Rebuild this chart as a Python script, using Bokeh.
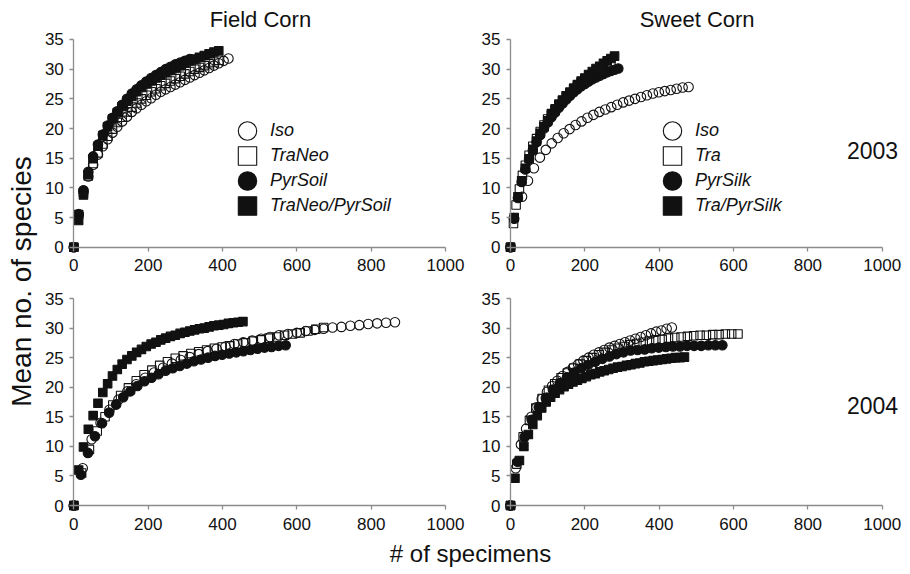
import math
from bokeh.plotting import figure
from bokeh.models import Range1d, FixedTicker, Legend, LegendItem, Label
from bokeh.layouts import row, column
from bokeh.embed import file_html
from bokeh.resources import INLINE

# ---------------- data ----------------
# Field corn 2003
fc03_iso_x = [0, 13, 26, 39, 52, 65, 78, 91, 104, 117, 130, 143, 156, 169, 182, 195, 208, 221, 234, 247, 260, 273, 286, 299, 312, 325, 338, 351, 364, 377, 390, 403, 416]
fc03_iso_y = [0, 5.6, 9.3, 11.9, 13.9, 15.6, 17.0, 18.2, 19.3, 20.3, 21.2, 22.0, 22.8, 23.4, 24.0, 24.6, 25.1, 25.7, 26.2, 26.6, 27.0, 27.4, 27.8, 28.2, 28.6, 29.0, 29.4, 29.8, 30.2, 30.6, 31.0, 31.4, 31.8]
fc03_traneo_x = [0, 13, 26, 39, 52, 65, 78, 91, 104, 117, 130, 143, 156, 169, 182, 195, 208, 221, 234, 247, 260, 273, 286, 299, 312, 325, 338, 351, 364, 377, 390]
fc03_traneo_y = [0, 5.5, 9.2, 12.0, 14.1, 15.9, 17.4, 18.7, 19.9, 21.0, 21.9, 22.8, 23.6, 24.3, 25.0, 25.6, 26.2, 26.7, 27.2, 27.6, 28.0, 28.4, 28.8, 29.2, 29.6, 30.0, 30.3, 30.6, 30.9, 31.2, 31.5]
fc03_pyrsoil_x = [0, 13, 26, 39, 52, 65, 78, 91, 104, 117, 130, 143, 156, 169, 182, 195, 208, 221, 234, 247, 260, 273, 286, 299, 312]
fc03_pyrsoil_y = [0, 5.5, 9.6, 12.7, 15.3, 17.3, 19.0, 20.5, 21.8, 22.9, 24.0, 25.0, 25.9, 26.6, 27.3, 27.9, 28.5, 29.0, 29.5, 30.0, 30.4, 30.8, 31.1, 31.4, 31.7]
fc03_combo_x = [0, 13, 26, 39, 52, 65, 78, 91, 104, 117, 130, 143, 156, 169, 182, 195, 208, 221, 234, 247, 260, 273, 286, 299, 312, 325, 338, 351, 364, 377, 390]
fc03_combo_y = [0, 4.5, 8.8, 12.2, 14.9, 17.0, 18.8, 20.3, 21.6, 22.7, 23.7, 24.6, 25.4, 26.2, 26.9, 27.5, 28.0, 28.5, 29.0, 29.4, 29.8, 30.2, 30.6, 31.0, 31.4, 31.7, 32.0, 32.3, 32.6, 32.9, 33.1]

# Sweet corn 2003
sc03_iso_x = [0, 9, 31, 47, 63, 79, 95, 111, 127, 143, 159, 175, 191, 207, 223, 239, 255, 271, 287, 303, 319, 335, 351, 367, 383, 399, 415, 431, 447, 463, 479]
sc03_iso_y = [0, 4.9, 8.5, 11.2, 13.3, 15.1, 16.4, 17.5, 18.4, 19.2, 19.9, 20.6, 21.2, 21.8, 22.3, 22.8, 23.2, 23.6, 24.0, 24.4, 24.7, 25.0, 25.3, 25.6, 25.9, 26.1, 26.3, 26.5, 26.7, 26.9, 27.0]
sc03_tra_x = [0, 8, 15, 24, 32, 40, 50, 60, 70, 80, 90, 100, 110, 120, 130, 140, 150, 160, 170, 180, 190, 200, 210, 220, 230, 240, 250, 260, 270]
sc03_tra_y = [0, 4.0, 7.1, 9.8, 12.1, 13.8, 15.5, 17.0, 18.3, 19.5, 20.6, 21.6, 22.5, 23.3, 24.1, 24.8, 25.5, 26.1, 26.7, 27.2, 27.7, 28.2, 28.6, 29.0, 29.4, 29.8, 30.1, 30.4, 30.7]
sc03_pyrsilk_x = [0, 10, 20, 30, 40, 50, 60, 70, 80, 90, 100, 110, 120, 130, 140, 150, 160, 170, 180, 190, 200, 210, 220, 230, 240, 250, 260, 270, 280, 290]
sc03_pyrsilk_y = [0, 4.8, 8.3, 11.0, 13.1, 14.8, 16.3, 17.7, 18.9, 20.0, 21.0, 21.9, 22.7, 23.5, 24.2, 24.9, 25.5, 26.1, 26.6, 27.1, 27.5, 27.9, 28.3, 28.6, 28.9, 29.2, 29.5, 29.7, 29.9, 30.1]
sc03_combo_x = [0, 10, 20, 30, 40, 50, 60, 70, 80, 90, 100, 110, 120, 130, 140, 150, 160, 170, 180, 190, 200, 210, 220, 230, 240, 250, 260, 270, 280]
sc03_combo_y = [0, 5.0, 8.5, 11.2, 13.3, 14.9, 16.5, 17.9, 19.2, 20.3, 21.3, 22.3, 23.2, 24.0, 24.7, 25.5, 26.1, 26.8, 27.4, 28.0, 28.5, 29.1, 29.6, 30.1, 30.5, 31.0, 31.4, 31.8, 32.2]

# Field corn 2004
fc04_iso_x = [0, 24, 48, 72, 96, 120, 144, 168, 192, 216, 240, 264, 288, 312, 336, 360, 384, 408, 432, 456, 480, 504, 528, 552, 576, 600, 624, 648, 672, 696, 720, 744, 768, 792, 816, 840, 864]
fc04_iso_y = [0, 6.3, 11.2, 14.0, 16.2, 17.9, 19.3, 20.5, 21.6, 22.5, 23.3, 24.0, 24.6, 25.1, 25.6, 26.1, 26.5, 26.9, 27.3, 27.6, 27.9, 28.2, 28.5, 28.8, 29.0, 29.2, 29.5, 29.7, 29.9, 30.1, 30.2, 30.4, 30.5, 30.7, 30.8, 30.9, 31.0]
fc04_traneo_x = [0, 21, 42, 63, 84, 105, 126, 147, 168, 189, 210, 231, 252, 273, 294, 315, 336, 357, 378, 399, 420, 441, 462, 483, 504, 525, 546, 567, 588, 609, 630, 651, 672]
fc04_traneo_y = [0, 5.5, 9.5, 12.6, 15.0, 17.0, 18.6, 19.9, 21.1, 22.1, 22.9, 23.7, 24.3, 24.9, 25.3, 25.7, 26.0, 26.3, 26.6, 26.8, 27.0, 27.3, 27.5, 27.8, 28.0, 28.3, 28.5, 28.8, 29.0, 29.2, 29.5, 29.8, 30.1]
fc04_pyrsoil_x = [0, 19, 38, 57, 76, 95, 114, 133, 152, 171, 190, 209, 228, 247, 266, 285, 304, 323, 342, 361, 380, 399, 418, 437, 456, 475, 494, 513, 532, 551, 570]
fc04_pyrsoil_y = [0, 5.2, 8.9, 11.7, 13.9, 15.7, 17.1, 18.3, 19.3, 20.2, 21.0, 21.6, 22.2, 22.8, 23.2, 23.6, 24.0, 24.4, 24.7, 25.0, 25.3, 25.5, 25.7, 25.9, 26.1, 26.3, 26.5, 26.7, 26.8, 27.0, 27.1]
fc04_combo_x = [0, 13, 26, 39, 52, 65, 78, 91, 104, 117, 130, 143, 156, 169, 182, 195, 208, 221, 234, 247, 260, 273, 286, 299, 312, 325, 338, 351, 364, 377, 390, 403, 416, 429, 442, 455]
fc04_combo_y = [0, 6.0, 9.9, 12.9, 15.2, 17.3, 19.1, 20.6, 21.9, 23.0, 23.9, 24.7, 25.3, 25.9, 26.4, 26.9, 27.3, 27.6, 28.0, 28.3, 28.6, 28.8, 29.1, 29.3, 29.5, 29.7, 29.9, 30.0, 30.2, 30.4, 30.5, 30.6, 30.8, 30.9, 31.0, 31.1]

# Sweet corn 2004
sc04_iso_x = [0, 14, 28, 42, 56, 70, 84, 98, 112, 126, 140, 154, 168, 182, 196, 210, 224, 238, 252, 266, 280, 294, 308, 322, 336, 350, 364, 378, 392, 406, 420, 434]
sc04_iso_y = [0, 6.3, 10.3, 13.0, 15.0, 16.6, 18.0, 19.2, 20.2, 21.1, 21.9, 22.6, 23.3, 23.9, 24.5, 25.0, 25.5, 25.9, 26.3, 26.7, 27.0, 27.3, 27.6, 27.9, 28.2, 28.5, 28.8, 29.1, 29.4, 29.6, 29.9, 30.1]
sc04_tra_x = [0, 17, 34, 51, 68, 85, 102, 119, 136, 153, 170, 187, 204, 221, 238, 255, 272, 289, 306, 323, 340, 357, 374, 391, 408, 425, 442, 459, 476, 493, 510, 527, 544, 561, 578, 595, 612]
sc04_tra_y = [0, 7.0, 11.6, 14.4, 16.5, 18.1, 19.5, 20.6, 21.6, 22.4, 23.2, 23.9, 24.5, 25.0, 25.5, 25.9, 26.3, 26.6, 26.9, 27.2, 27.4, 27.6, 27.8, 28.0, 28.1, 28.3, 28.4, 28.5, 28.6, 28.7, 28.8, 28.8, 28.9, 28.9, 29.0, 29.0, 29.0]
sc04_pyrsilk_x = [0, 19, 38, 57, 76, 95, 114, 133, 152, 171, 190, 209, 228, 247, 266, 285, 304, 323, 342, 361, 380, 399, 418, 437, 456, 475, 494, 513, 532, 551, 570]
sc04_pyrsilk_y = [0, 7.4, 11.6, 14.5, 16.6, 18.2, 19.6, 20.7, 21.7, 22.5, 23.2, 23.8, 24.3, 24.8, 25.2, 25.6, 25.9, 26.2, 26.3, 26.4, 26.6, 26.7, 26.8, 26.9, 26.9, 27.0, 27.0, 27.0, 27.1, 27.1, 27.1]
sc04_combo_x = [0, 12, 24, 36, 48, 60, 72, 84, 96, 108, 120, 132, 144, 156, 168, 180, 192, 204, 216, 228, 240, 252, 264, 276, 288, 300, 312, 324, 336, 348, 360, 372, 384, 396, 408, 420, 432, 444, 456, 468]
sc04_combo_y = [0, 4.6, 7.6, 10.0, 12.0, 13.7, 15.2, 16.5, 17.5, 18.3, 19.0, 19.6, 20.1, 20.5, 20.9, 21.2, 21.5, 21.8, 22.1, 22.3, 22.6, 22.8, 23.0, 23.2, 23.4, 23.5, 23.7, 23.8, 24.0, 24.1, 24.3, 24.4, 24.5, 24.6, 24.7, 24.8, 24.9, 25.0, 25.0, 25.1]

field_labels = ["Iso", "TraNeo", "PyrSoil", "TraNeo/PyrSoil"]
sweet_labels = ["Iso", "Tra", "PyrSilk", "Tra/PyrSilk"]
col_titles = ["Field Corn", "Sweet Corn"]
years = ["2003", "2004"]
x_ticks = [0, 200, 400, 600, 800, 1000]
y_ticks = [0, 5, 10, 15, 20, 25, 30, 35]

# ---------------- styling / layout ----------------
FONT = "Liberation Sans"
INK = "#111111"
AXIS = "#8c8c8c"
# (marker, filled, size)
STYLES = [("circle", False, 9.5), ("square", False, 8.5), ("circle", True, 9.5), ("square", True, 8.5)]

PX_X = 0.3717   # px per specimen
PX_Y_BOT = 5.914
TOP_H, BOT_H, XLAB_H = 282, 253, 37
LEFT_W, RIGHT_W, YLAB_W = 439, 431, 38


def panel(curves, labels, width, height, xr, yr, title=None, year=None, year_y=None):
    p = figure(width=width, height=height, x_range=Range1d(*xr), y_range=Range1d(*yr),
               output_backend="svg", toolbar_location=None, title_location=None,
               min_border=0)
    p.outline_line_color = None
    p.grid.visible = False
    p.background_fill_color = "white"
    p.border_fill_color = "white"

    p.xaxis.fixed_location = 0
    p.yaxis.fixed_location = 0
    p.xaxis.bounds = (0, 1000)
    p.yaxis.bounds = (0, 35)
    p.xaxis.ticker = FixedTicker(ticks=x_ticks)
    p.yaxis.ticker = FixedTicker(ticks=y_ticks)
    for ax in (p.xaxis, p.yaxis):
        ax.axis_line_color = AXIS
        ax.axis_line_width = 1.3
        ax.major_tick_line_color = AXIS
        ax.major_tick_line_width = 1.3
        ax.major_tick_in = 0
        ax.major_tick_out = 4
        ax.minor_tick_line_color = None
        ax.major_label_text_font = FONT
        ax.major_label_text_font_size = "17px"
        ax.major_label_text_color = INK
    p.xaxis.major_label_standoff = 8
    p.yaxis.major_label_standoff = 6

    rends = []
    for (xs, ys), (marker, filled, size) in zip(curves, STYLES):
        r = p.scatter(xs, ys, marker=marker, size=size,
                      line_color=INK, line_width=1.1,
                      fill_color=INK if filled else None)
        rends.append(r)

    if labels is not None:
        legend_vx, legend_vy = labels[1]
        for i, (lab, r) in enumerate(zip(labels[0], rends)):
            leg = Legend(items=[LegendItem(label=lab, renderers=[r])],
                         location=(legend_vx, legend_vy - 25 * i),
                         glyph_width=46, glyph_height=47,
                         padding=0, margin=0, label_standoff=0,
                         background_fill_alpha=0, border_line_color=None,
                         label_text_font=FONT, label_text_font_size="18px",
                         label_text_font_style="italic", label_text_color=INK)
            p.add_layout(leg)
    if title is not None:
        p.add_layout(Label(x=502, y=38.4, text=title, text_align="center",
                           text_baseline="middle", text_font=FONT,
                           text_font_size="22px", text_color=INK))
    if year is not None:
        p.add_layout(Label(x=974, y=year_y, text=year, text_align="center",
                           text_baseline="middle", text_font=FONT,
                           text_font_size="23px", text_color=INK))
    return p


# ranges chosen so that every text sits inside the frame
top_yr = (-5.95, 41.57)
bot_top = 37.71
bot_yr = (bot_top - BOT_H / PX_Y_BOT, bot_top)
left_xr = (-95.0, -95.0 + LEFT_W / PX_X)
right_xr = (-88.8, -88.8 + RIGHT_W / PX_X)

tl = panel([(fc03_iso_x, fc03_iso_y), (fc03_traneo_x, fc03_traneo_y),
            (fc03_pyrsoil_x, fc03_pyrsoil_y), (fc03_combo_x, fc03_combo_y)],
           (field_labels, (186, 128)), LEFT_W, TOP_H, left_xr, top_yr, title=col_titles[0])
tr = panel([(sc03_iso_x, sc03_iso_y), (sc03_tra_x, sc03_tra_y),
            (sc03_pyrsilk_x, sc03_pyrsilk_y), (sc03_combo_x, sc03_combo_y)],
           (sweet_labels, (172, 128)), RIGHT_W, TOP_H, right_xr, top_yr,
           title=col_titles[1], year=years[0], year_y=16.3)
bl = panel([(fc04_iso_x, fc04_iso_y), (fc04_traneo_x, fc04_traneo_y),
            (fc04_pyrsoil_x, fc04_pyrsoil_y), (fc04_combo_x, fc04_combo_y)],
           None, LEFT_W, BOT_H, left_xr, bot_yr)
br = panel([(sc04_iso_x, sc04_iso_y), (sc04_tra_x, sc04_tra_y),
            (sc04_pyrsilk_x, sc04_pyrsilk_y), (sc04_combo_x, sc04_combo_y)],
           None, RIGHT_W, BOT_H, right_xr, bot_yr, year=years[1], year_y=16.9)


def text_fig(w, h, text, x, y, angle, size):
    f = figure(width=w, height=h, output_backend="svg", toolbar_location=None,
               x_axis_location=None, y_axis_location=None, title_location=None,
               min_border=0, x_range=Range1d(0, 1), y_range=Range1d(0, 1))
    f.outline_line_color = None
    f.grid.visible = False
    f.add_layout(Label(x=x, y=y, x_units="screen", y_units="screen", text=text,
                       angle=angle, text_align="center", text_baseline="middle",
                       text_font=FONT, text_font_size=size, text_color=INK))
    return f


ylab = text_fig(YLAB_W, TOP_H + BOT_H + XLAB_H, "Mean no. of species", 21, 291, math.pi / 2, "28px")
xlab = text_fig(LEFT_W + RIGHT_W, XLAB_H, "# of specimens", 432, 19, 0, "24px")

layout = row(ylab, column(row(tl, tr), row(bl, br), xlab))

open("out.html", "w").write(file_html(layout, INLINE))
